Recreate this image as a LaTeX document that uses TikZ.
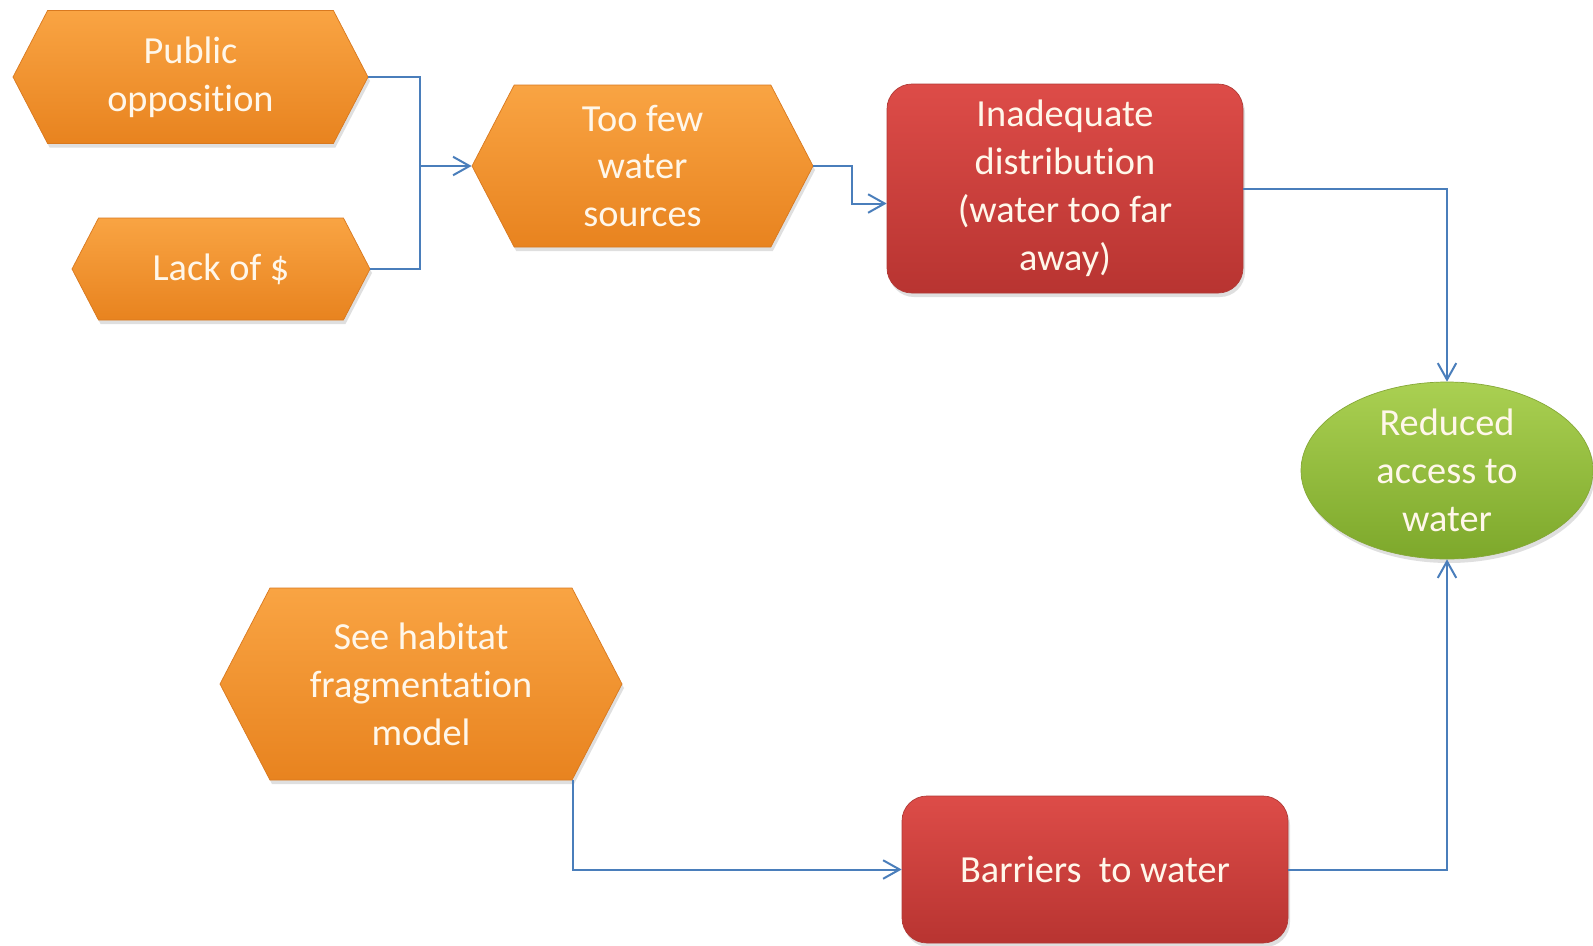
\documentclass[tikz,border=0pt]{standalone}
\usepackage{fontspec}
\setmainfont{Carlito}[Ligatures={NoCommon}]
\usetikzlibrary{shapes.symbols,shapes.geometric,arrows.meta,shadows}

\definecolor{OrangeTop}{HTML}{F9A443}
\definecolor{OrangeBot}{HTML}{E8831F}
\definecolor{OrangeLine}{HTML}{D9791F}
\definecolor{RedTop}{HTML}{DD4C48}
\definecolor{RedBot}{HTML}{B83431}
\definecolor{RedLine}{HTML}{B13A36}
\definecolor{GreenTop}{HTML}{AAD052}
\definecolor{GreenBot}{HTML}{7DA82B}
\definecolor{GreenLine}{HTML}{86A838}
\definecolor{LinkBlue}{HTML}{4A7EBB}
\definecolor{TextWhite}{HTML}{FFF7EA}

\begin{document}
\begin{tikzpicture}

  \useasboundingbox[fill=white] (0,0) rectangle (31.86,-18.9);

  % node styles
  \tikzstyle{Box}=[
  font=\fontsize{21.8}{27.3}\selectfont,
  text=TextWhite,
  align=center,
  inner sep=0mm,
  drop shadow={opacity=0.25,shadow xshift=0.04cm,shadow yshift=-0.08cm}]

  \tikzstyle{Hex}=[Box,shape=signal,signal to=west and east,
  signal pointer angle=125,
  top color=OrangeTop,bottom color=OrangeBot,draw=OrangeLine]

  \tikzstyle{Red}=[Box,shape=rectangle,rounded corners=0.5cm,
  top color=RedTop,bottom color=RedBot,draw=RedLine]

  \tikzstyle{Goal}=[Box,shape=ellipse,
  top color=GreenTop,bottom color=GreenBot,draw=GreenLine]

  \tikzstyle{Link}=[draw=LinkBlue,line width=0.04cm,
  -{Straight Barb[length=0.33cm,width=0.37cm]}]

  \node[Hex,minimum width=7.1cm,minimum height=2.66cm]  (P) at ( 3.81, -1.54) {Public\\opposition};
  \node[Hex,minimum width=5.96cm,minimum height=2.04cm] (L) at ( 4.42, -5.38) {Lack of \$};
  \node[Hex,minimum width=6.82cm,minimum height=3.24cm] (F) at (12.85, -3.32) {Too few\\water\\sources};
  \node[Red,minimum width=7.12cm,minimum height=4.18cm] (D) at (21.30, -3.77) {Inadequate\\distribution\\(water too far\\away)};
  \node[Goal,minimum width=5.84cm,minimum height=3.54cm] (A) at (28.94, -9.41) {Reduced\\access to\\water};
  \node[Hex,minimum width=8.04cm,minimum height=3.84cm] (H) at ( 8.42,-13.68) {See habitat\\fragmentation\\model};
  \node[Red,minimum width=7.72cm,minimum height=2.94cm] (W) at (21.90,-17.39) {Barriers\ \ to water};

  \coordinate (J) at ([xshift=-1.04cm]F.west);

  \draw[Link,-] (P.east) -| (J) |- (L.east);
  \draw[Link] (J) -- (F.west);
  \draw[Link] (F.east) -- ++(0.78,0) |- ([yshift=-0.3cm]D.west);
  \draw[Link] (D.east) -| (A.north);
  \draw[Link] (W.east) -| (A.south);
  \draw[Link] ([xshift=3.04cm]H.south) |- (W.west);

\end{tikzpicture}
\end{document}
